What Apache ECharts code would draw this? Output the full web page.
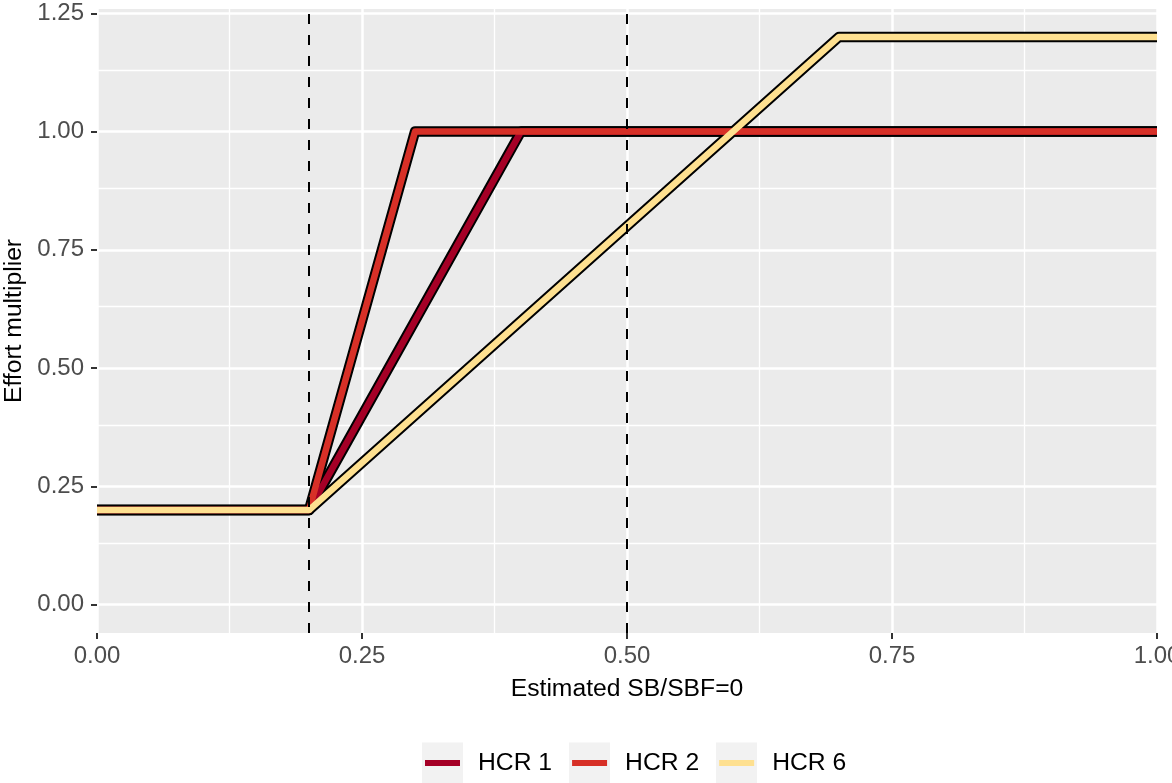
<!DOCTYPE html>
<html>
<head>
<meta charset="utf-8">
<script src="https://cdn.jsdelivr.net/npm/echarts@6/dist/echarts.min.js"></script>
<style>
html,body{margin:0;padding:0;background:#fff;}
#main{width:1172px;height:783px;}
</style>
</head>
<body>
<div id="main"></div>
<script>
// ---- data ----
const hcrNames = ['HCR 1', 'HCR 2', 'HCR 6'];
const hcrColors = ['#a50026', '#d73027', '#fee090'];
const hcr1X = [0, 0.2, 0.4, 1.0];
const hcr1Y = [0.2, 0.2, 1.0, 1.0];
const hcr2X = [0, 0.2, 0.3, 1.0];
const hcr2Y = [0.2, 0.2, 1.0, 1.0];
const hcr6X = [0, 0.2, 0.7, 1.0];
const hcr6Y = [0.2, 0.2, 1.2, 1.2];
const xTicks = [0, 0.25, 0.5, 0.75, 1.0];
const yTicks = [0, 0.25, 0.5, 0.75, 1.0, 1.25];
const yMinorTicks = [0.125, 0.375, 0.625, 0.875, 1.125];
const refLinesX = [0.2, 0.5];
const xTitle = 'Estimated SB/SBF=0';
const yTitle = 'Effort multiplier';

const FONT = '"Liberation Sans", Arial, Helvetica, sans-serif';
const FS_TICK = 24;
const FS_TITLE = 24.7;

const pairs = (xs, ys) => xs.map((x, i) => [x, ys[i]]);
const hcrData = [pairs(hcr1X, hcr1Y), pairs(hcr2X, hcr2Y), pairs(hcr6X, hcr6Y)];

const series = [];
// grid lines (y) as markLines
series.push({
  type: 'line', data: [], z: 1, silent: true,
  markLine: {
    silent: true, symbol: 'none', label: {show: false}, animation: false, z: 1,
    data: yTicks.map(v => ({yAxis: v, lineStyle: {color: '#ffffff', width: 2.5, type: 'solid'}}))
      .concat(yMinorTicks.map(v => ({yAxis: v, lineStyle: {color: '#ffffff', width: 1.3, type: 'solid'}})))
  }
});
// black outlines
hcrData.forEach((d, i) => {
  series.push({
    type: 'line', name: hcrNames[i] + '_outline', data: d, z: 2,
    symbol: 'none', silent: true, animation: false,
    lineStyle: {color: '#000000', width: 10.5, cap: 'butt', join: 'round'}
  });
});
// coloured lines
hcrData.forEach((d, i) => {
  series.push({
    type: 'line', name: hcrNames[i], data: d, z: 3,
    symbol: 'none', animation: false, color: hcrColors[i],
    lineStyle: {color: hcrColors[i], width: 6.5, cap: 'butt', join: 'round'}
  });
});
// dashed reference lines
series.push({
  type: 'line', data: [], z: 10, silent: true,
  markLine: {
    silent: true, symbol: 'none', label: {show: false}, animation: false, z: 10,
    lineStyle: {color: '#000000', width: 2, type: [10, 11]},
    data: refLinesX.map(v => ({xAxis: v}))
  }
});

const chart = echarts.init(document.getElementById('main'), null, {renderer: 'canvas'});
const legendLeft = 425;
const legendStep = 147;
chart.setOption({
  animation: false,
  backgroundColor: '#ffffff',
  textStyle: {fontFamily: FONT},
  grid: {
    left: 97, right: 15, top: 9, bottom: 150,
    show: true, backgroundColor: '#ebebeb', borderWidth: 0,
    containLabel: false, outerBoundsMode: 'none'
  },
  xAxis: {
    type: 'value', min: 0, max: 1, interval: 0.25,
    name: xTitle, nameLocation: 'middle', nameGap: 44,
    nameTextStyle: {color: '#000000', fontSize: FS_TITLE, fontFamily: FONT},
    axisLine: {show: false, onZero: false},
    axisTick: {show: true, length: 6, lineStyle: {color: '#333333', width: 2}},
    axisLabel: {color: '#4d4d4d', fontSize: FS_TICK, fontFamily: FONT, margin: 11,
      formatter: v => v.toFixed(2), showMinLabel: true, showMaxLabel: true, hideOverlap: false},
    splitLine: {show: true, lineStyle: {color: '#ffffff', width: 2.5}},
    minorTick: {show: false, splitNumber: 2},
    minorSplitLine: {show: true, lineStyle: {color: '#ffffff', width: 1.3}}
  },
  yAxis: {
    type: 'value', min: -0.0598, max: 1.259,
    name: yTitle, nameLocation: 'middle', nameGap: 68, nameRotate: 90,
    nameTextStyle: {color: '#000000', fontSize: FS_TITLE, fontFamily: FONT},
    axisLine: {show: false, onZero: false},
    axisTick: {show: true, length: 6, lineStyle: {color: '#333333', width: 2}, customValues: yTicks},
    axisLabel: {color: '#4d4d4d', fontSize: FS_TICK, fontFamily: FONT, margin: 13,
      formatter: v => Number(v).toFixed(2), customValues: yTicks, hideOverlap: false},
    splitLine: {show: false}
  },
  legend: {
    show: true, orient: 'horizontal', left: legendLeft, top: 749, padding: 0,
    data: hcrNames,
    icon: 'rect', itemWidth: 35, itemHeight: 6, itemGap: 20,
    textStyle: {color: '#000000', fontSize: FS_TITLE, fontFamily: FONT, padding: [0, 0, 0, 13], lineHeight: 28},
    selectedMode: false
  },
  graphic: hcrNames.map((n, i) => ({
    type: 'rect', z: -1, silent: true,
    shape: {x: legendLeft - 3 + i * legendStep, y: 742.5, width: 41, height: 41},
    style: {fill: '#f2f2f2'}
  })),
  series: series
});
</script>
</body>
</html>
